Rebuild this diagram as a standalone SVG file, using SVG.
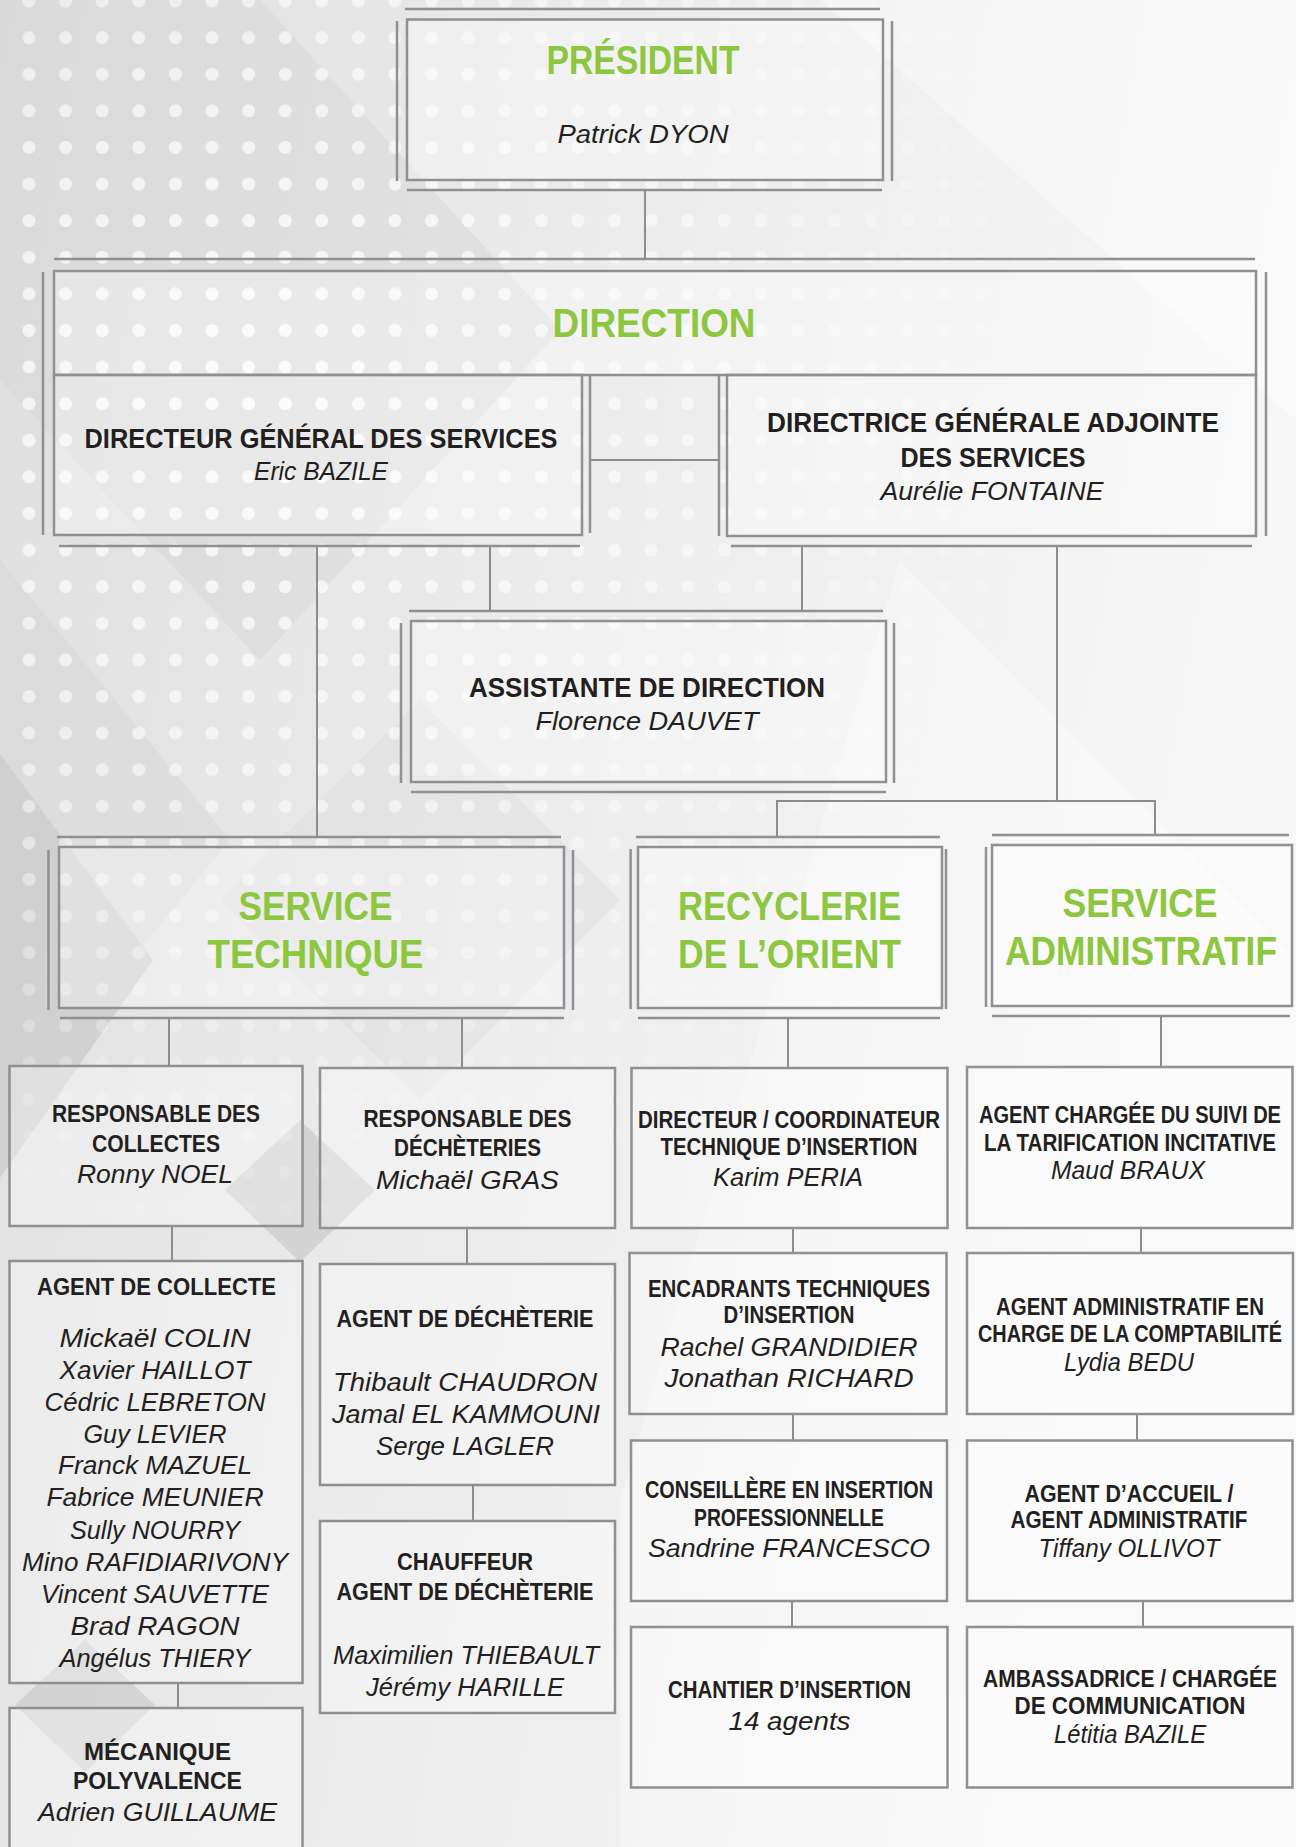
<svg xmlns="http://www.w3.org/2000/svg" width="1296" height="1847" viewBox="0 0 1296 1847">
<defs>
<style>
.box{fill:#ffffff;fill-opacity:0.32;stroke:#8f8f94;stroke-width:2.5}
.ln{stroke:#8f8f94;stroke-width:2.5;fill:none}
.cn{stroke:#8c8c90;stroke-width:2;fill:none}
.g{font-family:"Liberation Sans",Arial,sans-serif;font-weight:bold;font-size:40px;fill:#8dc63f;text-anchor:middle}
.h{font-family:"Liberation Sans",Arial,sans-serif;font-weight:bold;font-size:27px;fill:#231f20;text-anchor:middle}
.t{font-family:"Liberation Sans",Arial,sans-serif;font-weight:bold;font-size:23px;fill:#231f20;text-anchor:middle}
.n{font-family:"Liberation Sans",Arial,sans-serif;font-style:italic;font-size:25px;fill:#231f20;text-anchor:middle}
</style>
<linearGradient id="bg" x1="0" y1="0" x2="1" y2="0.25">
<stop offset="0" stop-color="#dedede"/>
<stop offset="0.45" stop-color="#ebebeb"/>
<stop offset="1" stop-color="#f7f7f7"/>
</linearGradient>
<pattern id="dots" patternUnits="userSpaceOnUse" x="10.7" y="-17.3" width="36.6" height="36.6">
<circle cx="18.3" cy="18.3" r="6.5" fill="#ffffff"/>
</pattern>
<radialGradient id="dm" cx="250" cy="380" r="900" gradientUnits="userSpaceOnUse">
<stop offset="0" stop-color="#fff" stop-opacity="1"/>
<stop offset="0.55" stop-color="#fff" stop-opacity="0.55"/>
<stop offset="1" stop-color="#fff" stop-opacity="0"/>
</radialGradient>
<mask id="dmask"><rect width="1296" height="1847" fill="url(#dm)"/></mask>
</defs>

<g id="background">
<rect width="1296" height="1847" fill="url(#bg)"/>
<polygon points="0,0 260,0 560,330 260,660 0,380" fill="#d2d2d2" fill-opacity="0.35"/>
<polygon points="0,754 153,960 0,1178" fill="#c4c4c4" fill-opacity="0.6"/>
<polygon points="0,560 230,840 0,1120" fill="#d0d0d0" fill-opacity="0.35"/>
<polygon points="300,1120 375,1190 300,1262 225,1190" fill="#b9b9b9" fill-opacity="0.45"/>
<polygon points="85,1640 155,1705 85,1772 15,1705" fill="#bcbcbc" fill-opacity="0.45"/>
<polygon points="420,700 620,900 420,1100 220,900" fill="#d6d6d6" fill-opacity="0.3"/>
<polygon points="820,0 1296,0 1296,420" fill="#ffffff" fill-opacity="0.35"/>
<polygon points="900,560 1296,960 1296,1847 620,1847 620,1500" fill="#ffffff" fill-opacity="0.3"/>
<rect width="1296" height="1847" fill="url(#dots)" fill-opacity="0.85" mask="url(#dmask)"/>
</g>

<g id="connectors">
<line class="cn" x1="645" y1="190" x2="645" y2="259"/>
<line class="cn" x1="590" y1="460" x2="719" y2="460"/>
<line class="cn" x1="317" y1="546" x2="317" y2="837"/>
<line class="cn" x1="490" y1="546" x2="490" y2="611"/>
<line class="cn" x1="802" y1="546" x2="802" y2="611"/>
<line class="cn" x1="1057" y1="546" x2="1057" y2="801"/>
<polyline class="cn" points="777,837 777,801 1155,801 1155,835"/>
<line class="cn" x1="169" y1="1018" x2="169" y2="1066"/>
<line class="cn" x1="462" y1="1018" x2="462" y2="1068"/>
<line class="cn" x1="788" y1="1018" x2="788" y2="1068"/>
<line class="cn" x1="1161" y1="1016" x2="1161" y2="1067"/>
<line class="cn" x1="172" y1="1226" x2="172" y2="1261"/>
<line class="cn" x1="178" y1="1683" x2="178" y2="1708"/>
<line class="cn" x1="467" y1="1228" x2="467" y2="1264"/>
<line class="cn" x1="473" y1="1485" x2="473" y2="1521"/>
<line class="cn" x1="793" y1="1228" x2="793" y2="1253"/>
<line class="cn" x1="793" y1="1414" x2="793" y2="1440"/>
<line class="cn" x1="792" y1="1601" x2="792" y2="1627"/>
<line class="cn" x1="1141" y1="1228" x2="1141" y2="1253"/>
<line class="cn" x1="1137" y1="1414" x2="1137" y2="1440"/>
<line class="cn" x1="1143" y1="1601" x2="1143" y2="1627"/>
</g>

<g id="president">
<line class="ln" x1="405" y1="9" x2="880" y2="9"/>
<rect class="box" x="407" y="19.5" width="476" height="160.5"/>
<line class="ln" x1="397" y1="21" x2="397" y2="181"/>
<line class="ln" x1="892" y1="21" x2="892" y2="181"/>
<line class="ln" x1="407" y1="190" x2="882" y2="190"/>
<text class="g" x="643" y="74" textLength="193" lengthAdjust="spacingAndGlyphs">PRÉSIDENT</text>
<text class="n" x="643" y="143" font-size="26" textLength="171" lengthAdjust="spacingAndGlyphs">Patrick DYON</text>
</g>

<g id="direction">
<line class="ln" x1="54" y1="259" x2="1255" y2="259"/>
<rect class="box" x="54" y="271" width="1202" height="104"/>
<line class="ln" x1="43" y1="272" x2="43" y2="535"/>
<line class="ln" x1="1266" y1="272" x2="1266" y2="536"/>
<text class="g" x="654" y="337" textLength="203" lengthAdjust="spacingAndGlyphs">DIRECTION</text>
</g>

<g id="dgs">
<rect class="box" x="54" y="375" width="528" height="160"/>
<line class="ln" x1="590" y1="375" x2="590" y2="533"/>
<line class="ln" x1="59" y1="546" x2="580" y2="546"/>
<text class="h" x="321" y="448" textLength="473" lengthAdjust="spacingAndGlyphs">DIRECTEUR GÉNÉRAL DES SERVICES</text>
<text class="n" x="321" y="480" textLength="134" lengthAdjust="spacingAndGlyphs">Eric BAZILE</text>
</g>

<g id="dga">
<rect class="box" x="727" y="375" width="529" height="161"/>
<line class="ln" x1="719" y1="375" x2="719" y2="536"/>
<line class="ln" x1="731" y1="546" x2="1252" y2="546"/>
<text class="h" x="993" y="432" textLength="452" lengthAdjust="spacingAndGlyphs">DIRECTRICE GÉNÉRALE ADJOINTE</text>
<text class="h" x="993" y="467" textLength="185" lengthAdjust="spacingAndGlyphs">DES SERVICES</text>
<text class="n" x="992" y="500" textLength="223" lengthAdjust="spacingAndGlyphs">Aurélie FONTAINE</text>
</g>

<g id="assistante">
<line class="ln" x1="409" y1="611" x2="883" y2="611"/>
<rect class="box" x="411" y="621" width="475" height="161"/>
<line class="ln" x1="401" y1="623" x2="401" y2="783"/>
<line class="ln" x1="894" y1="623" x2="894" y2="783"/>
<line class="ln" x1="411" y1="792" x2="886" y2="792"/>
<text class="h" x="647" y="697" textLength="356" lengthAdjust="spacingAndGlyphs">ASSISTANTE DE DIRECTION</text>
<text class="n" x="647" y="730" textLength="223" lengthAdjust="spacingAndGlyphs">Florence DAUVET</text>
</g>

<g id="service-technique">
<line class="ln" x1="57" y1="837" x2="561" y2="837"/>
<rect class="box" x="59" y="847" width="505" height="161"/>
<line class="ln" x1="48.5" y1="850" x2="48.5" y2="1010"/>
<line class="ln" x1="573" y1="850" x2="573" y2="1010"/>
<line class="ln" x1="60" y1="1018" x2="564" y2="1018"/>
<text class="g" x="315.5" y="920" textLength="154" lengthAdjust="spacingAndGlyphs">SERVICE</text>
<text class="g" x="315.5" y="968" textLength="216" lengthAdjust="spacingAndGlyphs">TECHNIQUE</text>
</g>

<g id="recyclerie">
<line class="ln" x1="636" y1="837" x2="940" y2="837"/>
<rect class="box" x="638" y="847" width="304" height="161"/>
<line class="ln" x1="630.6" y1="849" x2="630.6" y2="1009"/>
<line class="ln" x1="946" y1="849" x2="946" y2="1009"/>
<line class="ln" x1="638" y1="1018" x2="940" y2="1018"/>
<text class="g" x="789.5" y="920" textLength="223" lengthAdjust="spacingAndGlyphs">RECYCLERIE</text>
<text class="g" x="789.5" y="968" textLength="223" lengthAdjust="spacingAndGlyphs">DE L’ORIENT</text>
</g>

<g id="service-administratif">
<line class="ln" x1="992" y1="835" x2="1289" y2="835"/>
<rect class="box" x="992" y="845" width="300" height="161"/>
<line class="ln" x1="986" y1="847" x2="986" y2="1007"/>
<line class="ln" x1="992" y1="1016" x2="1290" y2="1016"/>
<text class="g" x="1140" y="917" textLength="155" lengthAdjust="spacingAndGlyphs">SERVICE</text>
<text class="g" x="1141" y="965" font-size="35" textLength="272" lengthAdjust="spacingAndGlyphs">ADMINISTRATIF</text>
</g>

<g id="resp-collectes">
<rect class="box" x="9.5" y="1066" width="293" height="160"/>
<text class="t" x="156" y="1122" textLength="208" lengthAdjust="spacingAndGlyphs">RESPONSABLE DES</text>
<text class="t" x="156" y="1152" textLength="128" lengthAdjust="spacingAndGlyphs">COLLECTES</text>
<text class="n" x="155" y="1183" textLength="156" lengthAdjust="spacingAndGlyphs">Ronny NOEL</text>
</g>

<g id="agent-collecte">
<rect class="box" x="9.5" y="1261" width="293" height="422"/>
<text class="t" x="156.5" y="1295" textLength="239" lengthAdjust="spacingAndGlyphs">AGENT DE COLLECTE</text>
<text class="n" x="155" y="1347" textLength="191" lengthAdjust="spacingAndGlyphs">Mickaël COLIN</text>
<text class="n" x="155" y="1379" textLength="191" lengthAdjust="spacingAndGlyphs">Xavier HAILLOT</text>
<text class="n" x="155" y="1411" textLength="221" lengthAdjust="spacingAndGlyphs">Cédric LEBRETON</text>
<text class="n" x="155" y="1443" textLength="143" lengthAdjust="spacingAndGlyphs">Guy LEVIER</text>
<text class="n" x="155" y="1474" textLength="194" lengthAdjust="spacingAndGlyphs">Franck MAZUEL</text>
<text class="n" x="155" y="1506" textLength="217" lengthAdjust="spacingAndGlyphs">Fabrice MEUNIER</text>
<text class="n" x="155" y="1539" textLength="170" lengthAdjust="spacingAndGlyphs">Sully NOURRY</text>
<text class="n" x="155" y="1571" textLength="266" lengthAdjust="spacingAndGlyphs">Mino RAFIDIARIVONY</text>
<text class="n" x="155" y="1603" textLength="228" lengthAdjust="spacingAndGlyphs">Vincent SAUVETTE</text>
<text class="n" x="155" y="1635" textLength="169" lengthAdjust="spacingAndGlyphs">Brad RAGON</text>
<text class="n" x="155" y="1667" textLength="191" lengthAdjust="spacingAndGlyphs">Angélus THIERY</text>
</g>

<g id="mecanique">
<rect class="box" x="9.5" y="1708" width="293" height="150"/>
<text class="t" x="157.5" y="1760" textLength="147" lengthAdjust="spacingAndGlyphs">MÉCANIQUE</text>
<text class="t" x="157.5" y="1789" textLength="169" lengthAdjust="spacingAndGlyphs">POLYVALENCE</text>
<text class="n" x="157.5" y="1821" textLength="239" lengthAdjust="spacingAndGlyphs">Adrien GUILLAUME</text>
</g>

<g id="resp-decheteries">
<rect class="box" x="320" y="1068" width="295" height="160"/>
<text class="t" x="467.5" y="1127" textLength="208" lengthAdjust="spacingAndGlyphs">RESPONSABLE DES</text>
<text class="t" x="467.5" y="1156" textLength="147" lengthAdjust="spacingAndGlyphs">DÉCHÈTERIES</text>
<text class="n" x="467.5" y="1189" textLength="183" lengthAdjust="spacingAndGlyphs">Michaël GRAS</text>
</g>

<g id="agent-decheterie">
<rect class="box" x="320" y="1264" width="295" height="221"/>
<text class="t" x="465" y="1327" textLength="257" lengthAdjust="spacingAndGlyphs">AGENT DE DÉCHÈTERIE</text>
<text class="n" x="465" y="1391" textLength="264" lengthAdjust="spacingAndGlyphs">Thibault CHAUDRON</text>
<text class="n" x="466" y="1423" textLength="268" lengthAdjust="spacingAndGlyphs">Jamal EL KAMMOUNI</text>
<text class="n" x="465" y="1455" textLength="178" lengthAdjust="spacingAndGlyphs">Serge LAGLER</text>
</g>

<g id="chauffeur">
<rect class="box" x="320" y="1521" width="295" height="192"/>
<text class="t" x="465" y="1570" textLength="136" lengthAdjust="spacingAndGlyphs">CHAUFFEUR</text>
<text class="t" x="465" y="1600" textLength="257" lengthAdjust="spacingAndGlyphs">AGENT DE DÉCHÈTERIE</text>
<text class="n" x="466" y="1664" textLength="266" lengthAdjust="spacingAndGlyphs">Maximilien THIEBAULT</text>
<text class="n" x="465" y="1696" textLength="198" lengthAdjust="spacingAndGlyphs">Jérémy HARILLE</text>
</g>

<g id="directeur-coordinateur">
<rect class="box" x="631.5" y="1068" width="316" height="160"/>
<text class="t" x="789" y="1128" font-size="20.5" textLength="302" lengthAdjust="spacingAndGlyphs">DIRECTEUR / COORDINATEUR</text>
<text class="t" x="789" y="1155" textLength="257" lengthAdjust="spacingAndGlyphs">TECHNIQUE D’INSERTION</text>
<text class="n" x="788" y="1186" textLength="150" lengthAdjust="spacingAndGlyphs">Karim PERIA</text>
</g>

<g id="encadrants">
<rect class="box" x="629.5" y="1253" width="317" height="161"/>
<text class="t" x="789" y="1297" textLength="282" lengthAdjust="spacingAndGlyphs">ENCADRANTS TECHNIQUES</text>
<text class="t" x="789" y="1323" textLength="131" lengthAdjust="spacingAndGlyphs">D’INSERTION</text>
<text class="n" x="789" y="1356" textLength="257" lengthAdjust="spacingAndGlyphs">Rachel GRANDIDIER</text>
<text class="n" x="789" y="1387" textLength="249" lengthAdjust="spacingAndGlyphs">Jonathan RICHARD</text>
</g>

<g id="conseillere">
<rect class="box" x="631" y="1440.5" width="316" height="160.5"/>
<text class="t" x="789" y="1498" textLength="288" lengthAdjust="spacingAndGlyphs">CONSEILLÈRE EN INSERTION</text>
<text class="t" x="789" y="1526" textLength="190" lengthAdjust="spacingAndGlyphs">PROFESSIONNELLE</text>
<text class="n" x="789" y="1557" font-size="24" textLength="282" lengthAdjust="spacingAndGlyphs">Sandrine FRANCESCO</text>
</g>

<g id="chantier">
<rect class="box" x="631" y="1627" width="316.5" height="160.5"/>
<text class="t" x="789.5" y="1698" textLength="243" lengthAdjust="spacingAndGlyphs">CHANTIER D’INSERTION</text>
<text class="n" x="789.5" y="1730" textLength="122" lengthAdjust="spacingAndGlyphs">14 agents</text>
</g>

<g id="agent-tarification">
<rect class="box" x="967" y="1067" width="325.5" height="161"/>
<text class="t" x="1130" y="1123" font-size="20" textLength="302" lengthAdjust="spacingAndGlyphs">AGENT CHARGÉE DU SUIVI DE</text>
<text class="t" x="1130" y="1151" font-size="20" textLength="292" lengthAdjust="spacingAndGlyphs">LA TARIFICATION INCITATIVE</text>
<text class="n" x="1128" y="1179" textLength="154" lengthAdjust="spacingAndGlyphs">Maud BRAUX</text>
</g>

<g id="agent-comptabilite">
<rect class="box" x="967" y="1253" width="326" height="161"/>
<text class="t" x="1130" y="1315" font-size="20.5" textLength="268" lengthAdjust="spacingAndGlyphs">AGENT ADMINISTRATIF EN</text>
<text class="t" x="1130" y="1342" font-size="18.5" textLength="304" lengthAdjust="spacingAndGlyphs">CHARGE DE LA COMPTABILITÉ</text>
<text class="n" x="1129" y="1371" textLength="130" lengthAdjust="spacingAndGlyphs">Lydia BEDU</text>
</g>

<g id="agent-accueil">
<rect class="box" x="967" y="1440.5" width="325.5" height="160.5"/>
<text class="t" x="1129" y="1502" textLength="209" lengthAdjust="spacingAndGlyphs">AGENT D’ACCUEIL /</text>
<text class="t" x="1129" y="1528" textLength="237" lengthAdjust="spacingAndGlyphs">AGENT ADMINISTRATIF</text>
<text class="n" x="1129" y="1557" textLength="181" lengthAdjust="spacingAndGlyphs">Tiffany OLLIVOT</text>
</g>

<g id="ambassadrice">
<rect class="box" x="967" y="1627" width="325.5" height="160.5"/>
<text class="t" x="1130" y="1687" font-size="21" textLength="294" lengthAdjust="spacingAndGlyphs">AMBASSADRICE / CHARGÉE</text>
<text class="t" x="1130" y="1714" textLength="231" lengthAdjust="spacingAndGlyphs">DE COMMUNICATION</text>
<text class="n" x="1130" y="1743" textLength="152" lengthAdjust="spacingAndGlyphs">Létitia BAZILE</text>
</g>
</svg>
